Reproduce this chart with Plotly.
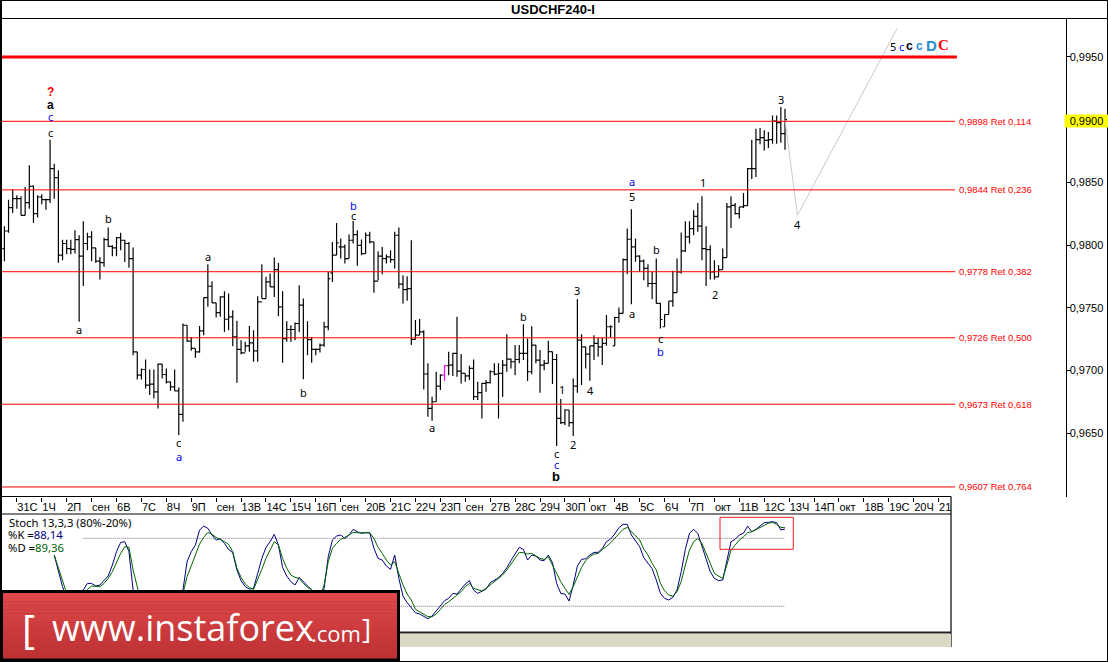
import plotly.graph_objects as go

# ---------- price data (pips, 1 pip = 0.0001) ----------
opens = [9797.2,9811.2,9829.8,9837.0,9837.0,9823.7,9833.8,9846.8,9825.1,9838.3,9836.2,9836.2,9860.9,9853.7,9791.9,9801.2,9797.2,9796.6,9804.3,9791.1,9801.2,9806.5,9797.7,9787.1,9786.0,9804.3,9799.0,9797.7,9805.9,9803.8,9801.2,9789.2,
9714.8,9696.2,9700.7,9688.2,9689.0,9682.9,9705.0,9696.7,9690.9,9686.9,9683.7,9664.9,9736.0,9723.3,9717.5,9714.8,9731.5,9758.1,9767.1,9753.8,9746.1,9758.6,9740.8,9742.7,9726.7,9716.7,9714.0,9719.6,9722.0,9715.6,9754.6,9757.3,9770.6,9766.6,9780.4,9750.7,9725.4,9732.6,9732.6,9737.4,9752.0,9726.2,9724.6,9716.7,9716.7,9720.1,9734.7,
9777.8,9791.9,9798.5,9798.5,9789.2,9803.8,9808.3,9799.8,9793.2,9807.8,9802.5,9771.2,9791.1,9789.2,9790.5,9788.4,9807.8,9768.8,9764.5,9765.3,9724.7,9728.1,9730.8,9697.1,9669.7,9675.0,9687.5,9696.2,9703.7,9704.2,9713.5,9699.4,9697.6,9695.7,9701.6,9679.0,9682.2,9689.6,9690.2,9698.9,9697.0,9697.6,9704.2,9709.0,9706.9,9708.7,9713.5,9713.5,9698.9,9720.2,9708.2,9704.2,9705.6,9714.9,9708.7,9661.7,9658.3,9668.4,9658.3,9687.5,9724.2,9718.8,9713.0,9719.6,9721.5,9718.8,9721.5,9734.8,9719.6,9742.2,9745.4,9788.4,9804.6,9798.5,9791.1,9787.1,9781.3,9769.3,9769.3,
9753.4,9734.8,9744.6,9755.2,9762.1,9778.6,9795.3,9806.5,9813.1,9822.9,9815.0,9797.2,9796.4,9778.6,9774.6,9780.4,9790.0,9830.4,9831.7,9825.1,9830.4,9831.4,9860.9,9860.9,9884.0,9885.6,9883.5,9884.0,9898.9,9897.6,9888.8]
highs = [9815.0,9836.2,9844.2,9839.7,9838.9,9846.3,9863.6,9847.6,9839.7,9840.5,9837.0,9884.0,9864.9,9859.6,9804.3,9804.3,9804.3,9811.8,9807.8,9819.0,9809.7,9811.0,9797.7,9790.5,9805.9,9813.9,9799.8,9806.5,9809.7,9804.3,9802.5,9798.0,
9714.8,9701.5,9708.7,9700.7,9700.7,9705.5,9705.0,9701.5,9690.9,9700.7,9686.4,9737.4,9736.0,9726.7,9717.5,9735.5,9758.1,9784.6,9771.1,9753.8,9759.2,9763.1,9761.3,9748.0,9739.5,9724.1,9722.8,9735.5,9732.0,9759.2,9784.6,9774.6,9777.2,9790.0,9785.7,9763.1,9739.2,9736.0,9738.2,9767.9,9757.3,9739.2,9726.7,9717.5,9721.4,9738.7,9778.5,
9802.5,9817.6,9805.2,9800.4,9808.3,9819.2,9811.8,9804.4,9809.9,9810.5,9802.5,9795.1,9798.5,9792.4,9795.9,9810.5,9813.9,9775.9,9775.1,9803.8,9740.1,9740.9,9732.1,9705.6,9679.0,9698.9,9697.0,9704.2,9714.9,9714.1,9742.7,9713.0,9697.6,9703.7,9708.7,9691.0,9690.2,9692.3,9700.2,9705.6,9705.6,9708.2,9728.9,9709.5,9720.2,9720.2,9736.9,9725.5,9735.3,9720.2,9716.2,9708.2,9723.6,9714.9,9713.0,9677.1,9668.9,9668.4,9693.6,9756.8,9728.9,9718.8,9719.6,9728.1,9726.3,9726.3,9744.1,9736.1,9742.7,9750.2,9789.2,9813.1,9828.5,9805.2,9791.9,9788.4,9784.7,9778.6,9789.2,
9753.9,9744.6,9755.2,9779.4,9789.2,9809.9,9819.0,9819.0,9827.7,9833.6,9838.9,9815.0,9799.8,9787.9,9783.9,9797.2,9833.6,9838.9,9833.6,9830.4,9841.5,9861.4,9884.0,9892.8,9893.3,9891.5,9890.1,9903.4,9903.4,9910.1,9908.7]
lows = [9787.1,9809.7,9825.6,9829.0,9823.7,9823.7,9829.0,9817.6,9821.9,9832.5,9828.2,9833.6,9837.0,9785.8,9787.9,9792.7,9792.7,9793.2,9738.7,9767.4,9795.8,9787.1,9785.8,9772.5,9782.6,9798.5,9791.1,9791.1,9795.8,9786.5,9781.8,9712.1,
9692.8,9692.8,9685.6,9680.3,9677.6,9669.6,9693.6,9689.6,9683.7,9683.7,9648.4,9659.0,9722.8,9715.6,9710.0,9714.0,9728.1,9750.7,9753.8,9742.2,9742.7,9730.7,9732.0,9719.3,9690.1,9712.9,9714.8,9714.8,9706.8,9706.8,9757.3,9757.3,9766.6,9758.6,9743.2,9706.0,9722.8,9722.8,9724.1,9730.7,9693.0,9712.1,9706.0,9712.1,9714.3,9718.8,9732.0,
9770.6,9791.9,9789.2,9785.2,9789.2,9801.2,9783.4,9791.9,9793.2,9801.2,9761.9,9771.9,9776.7,9785.2,9785.8,9781.3,9765.3,9753.4,9755.5,9720.2,9724.7,9728.1,9684.8,9663.1,9659.9,9675.0,9684.3,9691.7,9696.2,9695.5,9694.9,9689.6,9691.0,9692.3,9676.4,9676.4,9661.7,9683.0,9689.6,9696.2,9661.7,9679.0,9698.9,9701.6,9696.2,9705.6,9708.2,9691.5,9697.0,9705.6,9682.2,9700.2,9705.6,9689.1,9639.7,9657.2,9656.4,9655.1,9647.7,9682.2,9688.3,9701.6,9691.7,9708.2,9710.9,9704.2,9719.6,9726.3,9719.6,9738.0,9745.4,9776.7,9752.8,9786.6,9778.6,9771.9,9766.6,9756.8,9753.4,
9733.4,9734.8,9744.6,9750.7,9762.1,9777.2,9794.5,9801.2,9807.8,9810.5,9787.9,9767.4,9772.5,9772.5,9774.6,9780.4,9790.0,9813.6,9824.3,9821.1,9829.6,9831.4,9852.7,9854.3,9880.3,9875.5,9877.4,9880.8,9880.8,9881.6,9876.1]
closes = [9811.2,9829.8,9837.0,9837.0,9823.7,9833.8,9846.8,9825.1,9838.3,9836.2,9836.2,9860.9,9853.7,9791.9,9801.2,9797.2,9796.6,9804.3,9791.1,9801.2,9806.5,9797.7,9787.1,9786.0,9804.3,9799.0,9797.7,9805.9,9803.8,9801.2,9789.2,9714.8,
9696.2,9700.7,9688.2,9689.0,9682.9,9705.0,9696.7,9690.9,9686.9,9683.7,9664.9,9736.0,9723.3,9717.5,9714.8,9731.5,9758.1,9767.1,9753.8,9746.1,9758.6,9740.8,9742.7,9726.7,9716.7,9714.0,9719.6,9722.0,9715.6,9754.6,9757.3,9770.6,9766.6,9780.4,9750.7,9725.4,9732.6,9732.6,9737.4,9752.0,9726.2,9724.6,9716.7,9716.7,9720.1,9734.7,9773.2,
9791.9,9801.7,9798.5,9789.2,9803.8,9808.3,9799.8,9793.2,9807.8,9802.5,9771.2,9791.1,9789.2,9790.5,9788.4,9807.8,9768.8,9764.5,9765.3,9724.7,9728.1,9730.8,9697.1,9669.7,9675.0,9687.5,9696.2,9703.7,9704.2,9713.5,9699.4,9697.6,9695.7,9701.6,9679.0,9682.2,9689.6,9690.2,9698.9,9697.0,9697.6,9704.2,9709.0,9706.9,9708.7,9713.5,9713.5,9698.9,9720.2,9708.2,9704.2,9705.6,9714.9,9708.7,9661.7,9658.3,9668.4,9658.3,9687.5,9724.2,9718.8,9713.0,9719.6,9721.5,9718.8,9721.5,9734.8,9734.8,9742.2,9745.4,9788.4,9804.6,9798.5,9791.1,9787.1,9781.3,9769.3,9769.3,9753.4,
9740.6,9744.6,9755.2,9762.1,9778.6,9795.3,9806.5,9813.1,9822.9,9815.0,9797.2,9796.4,9778.6,9774.6,9780.4,9790.0,9830.4,9831.7,9825.1,9830.4,9831.4,9860.9,9860.9,9884.0,9885.6,9883.5,9884.0,9898.9,9897.6,9888.8,9900.0]
highlighted_bar = 106

# ---------- stochastic ----------
stoch_start = 12
stoch_k = [65.2,52,37.3,27,21,22.6,28.5,34.3,40.2,40.2,37.9,38.8,43.2,46.7,56.4,68.2,76.4,77,68.2,34.3,22.6,15.2,10.8,9.3,7.9,9.3,7.9,9.3,13.7,25.5,22.6,34.3,59.4,68.2,74.1,87.3,90.8,88.8,82.9,78.5,79.6,75.5,70.2,67.3,52,42.6,37.3,35.2,35.8,49,62.3,72,77,83.5,74.1,54.3,46.7,41.7,38.8,45.5,41.7,37.3,34.3,27,25.5,35.8,63.8,78.5,82,82.9,79.9,82.9,87.9,85.8,84.4,84.9,84.9,71.1,62.3,60.8,55.5,52.6,65.2,44.6,29,23.2,19,14.3,13.2,11.4,9,11.4,16.1,21.1,24.9,27,31.4,30.8,34.9,39.6,42.6,34.3,31.4,33.5,35.2,40.8,43.2,45.2,49,54,60.3,66.7,72,70.2,60.8,65.2,64.3,60.8,60.3,65.2,58.5,40.2,31.4,30.8,24.6,38.8,55.5,61.4,62,65.2,67.6,67.6,71.1,77,79.4,83.8,89.4,92.3,92.3,82.9,77.9,72.6,62.9,57.9,53.2,43.2,31.4,27,25.5,27.9,34.3,50.5,70.2,84.4,87.9,84.4,72.6,60.3,50.5,44.6,42.6,43.2,60.8,77,79.1,82.9,84.4,90.8,85.8,87.9,90.8,93.8,94.1,94.7,93.8,87.3,88.14]
stoch_d = [65.2,53.5,41.7,31.4,24,21,24,29.9,34.9,37.9,37.3,37.3,40.2,44.6,50.5,58.5,66.7,72.6,72,52,35.8,22.6,15.2,10.8,9.3,8.4,8.4,8.4,10.2,16.7,25.5,31.4,46.1,56.4,65.2,74.9,80.8,85.2,83.5,80.8,79.1,77,74.6,68.2,53.5,45.5,39.6,36.7,34.9,43.2,52.6,62.3,70.2,77,74.1,62.3,53.5,47.6,45.5,44.6,40.2,36.7,34.9,29.9,28.5,38.8,59.4,71.1,75.5,79.1,80.8,82.9,85.2,84.9,84.9,84.9,84.9,79.9,72,66.7,60.8,56.4,59.4,49,38.8,30.8,25.5,17.3,15.2,13.2,10.8,10.8,13.2,17.2,21.7,24,27,29.3,32.9,37.3,40.2,35.8,34.3,33.5,35.8,38.8,41.1,44.6,47.6,52,57.3,62.3,67.6,67.3,66.1,66.7,64.3,62.3,61.4,63.8,56.4,49,41.7,35.8,30.5,37.3,46.1,54.3,60.3,63.8,66.1,66.7,70.2,72.6,76.1,79.9,83.8,87.9,89.6,85.8,82,78.5,70.5,65.2,57.9,52,40.2,33.7,29.9,29,32.9,41.7,56.4,69.6,77,79.9,75.5,66.7,57.9,49,46.7,44.6,56.4,69.6,74,78.5,81.4,84.9,85.8,87.9,89.6,91.4,93.2,94.1,92.3,89.6,89.36]
stoch_levels = [80, 20]
stoch_level_span = [19, 188]
stoch_box_x = [172.35, 190]
stoch_box_y = [70.3, 98.5]

# ---------- axes ----------
date_ticks = [3 + 6 * k for k in range(38)]
date_labels = ["31С","1Ч","2П","сен","6В","7С","8Ч","9П","сен","13В","14С","15Ч","16П","сен","20В","21С","22Ч","23П","сен","27В","28С","29Ч","30П","окт","4В","5С","6Ч","7П","окт","11В","12С","13Ч","14П","окт","18В","19С","20Ч","21"]
price_ticks = [0.9650, 0.9700, 0.9750, 0.9800, 0.9850, 0.9950]
last_price = 0.9900

# ---------- retracement levels ----------
ret_prices = [0.98987, 0.9844, 0.97787, 0.9726, 0.9673, 0.9607]
ret_labels = ["0,9898 Ret 0,114","0,9844 Ret 0,236","0,9778 Ret 0,382","0,9726 Ret 0,500","0,9673 Ret 0,618","0,9607 Ret 0,764"]
ret_end = 229
ret_label_x = 229.5
target_price = 0.9950
target_end = 229.4

# ---------- forecast path ----------
wave_x = [188, 191, 215]
wave_y = [0.9900, 0.98237, 0.99727]

# ---------- wave labels ----------
lab_text = ["?","a","c","c","a","b","c","a","a","b","b","c","a","b","1","2","3","4","c","c","b","a","a","5","b","c","b","1","2","3","4","5","c","c","c","D","C"]
lab_x = [11,11,11,11,18,25,42,42,49,72,84,84,103,125,134.2,137,138,141.1,132.9,132.9,132.9,151.1,151.1,151.1,157.1,158,158,168.2,171.1,187.1,191,214.1,216,218.1,220.3,223.2,226.1]
lab_y = [9922,9911.8,9902.6,9889.8,9732.6,9821.1,9642.3,9631.7,9790.5,9682.4,9831.7,9823.7,9654.2,9743,9685,9641,9763.4,9683.7,9633.5,9624.7,9615.7,9745,9851,9839.1,9796.4,9725.7,9715.3,9850.2,9760.2,9916.4,9816.3,9958.4,9958.4,9958.4,9958.4,9959.4,9959.4]
lab_col = ["#ff0000","#000000","#0000ff","#000000","#000000","#000000","#000000","#0000ff","#000000","#000000","#0000ff","#000000","#000000","#000000","#000000","#000000","#000000","#000000","#000000","#0000ff","#000000","#000000","#0000ff","#000000","#000000","#000000","#0000ff","#000000","#000000","#000000","#000000","#000000","#0000ff","#000000","#1e90d0","#1e90d0","#ff0000"]
lab_bold = [1,1,0,0,0,0,0,0,0,0,0,0,0,0,0,0,0,0,0,0,1,0,0,0,0,0,0,0,0,0,0,0,0,1,1,1,1]
lab_size = [12,12,11,11,11,11,11,11,11,11,11,11,11,11,11,11,11,11,11,11,13,11,11,11,11,11,11,11,11,11,11,11,11,12,12,15,15]

W, H = 1108, 662
FONT = "Noto Sans"
AXFONT = "Liberation Sans"
px = lambda x: x / W
py = lambda y: 1 - y / H
bars = range(len(opens))
keep = [i for i in bars if i != highlighted_bar]
pr = lambda s, ids: [s[i] / 10000 for i in ids]

fig = go.Figure()
for ids, col in ((keep, "#000000"), ([highlighted_bar], "#ff00ff")):
    fig.add_trace(go.Ohlc(x=list(ids), open=pr(opens, ids), high=pr(highs, ids), low=pr(lows, ids), close=pr(closes, ids),
                          increasing=dict(line=dict(color=col, width=1.2)),
                          decreasing=dict(line=dict(color=col, width=1.2)),
                          tickwidth=0.5, showlegend=False, hoverinfo="skip"))

fig.add_trace(go.Scatter(x=wave_x, y=wave_y, mode="lines", line=dict(color="#cfc9cf", width=1), hoverinfo="skip"))

for p in ret_prices:
    fig.add_trace(go.Scatter(x=[-2, ret_end], y=[p, p], mode="lines", line=dict(color="#ff0000", width=1), hoverinfo="skip"))
fig.add_trace(go.Scatter(x=[-2, target_end], y=[target_price, target_price], mode="lines", line=dict(color="#ff0000", width=3), hoverinfo="skip"))

stoch_x = [stoch_start + i for i in range(len(stoch_k))]
for lv in stoch_levels:
    fig.add_trace(go.Scatter(x=stoch_level_span, y=[lv, lv], yaxis="y2", mode="lines",
                             line=dict(color="#847484", width=1, dash="1px,1px"), hoverinfo="skip"))
fig.add_trace(go.Scatter(x=stoch_x, y=stoch_k, yaxis="y2", mode="lines", line=dict(color="#000080", width=1), hoverinfo="skip"))
fig.add_trace(go.Scatter(x=stoch_x, y=stoch_d, yaxis="y2", mode="lines", line=dict(color="#006400", width=1), hoverinfo="skip"))

shapes = []
def hline(x0, x1, y, w=1, c="#000000"):
    shapes.append(dict(type="line", xref="paper", yref="paper", x0=px(x0), x1=px(x1), y0=py(y), y1=py(y), line=dict(color=c, width=w), layer="above"))
def vline(x, y0, y1, w=1, c="#000000"):
    shapes.append(dict(type="line", xref="paper", yref="paper", x0=px(x), x1=px(x), y0=py(y0), y1=py(y1), line=dict(color=c, width=w), layer="above"))
def rect(x0, y0, x1, y1, c):
    shapes.append(dict(type="rect", xref="paper", yref="paper", x0=px(x0), x1=px(x1), y0=py(y0), y1=py(y1), fillcolor=c, line=dict(width=0), layer="above"))

# frame and panel rules
hline(0, 1108, 0.5); hline(0, 1108, 18.5); hline(0, 1108, 661.5)
vline(1, 0, 662, 2); vline(1107.5, 0, 662)
hline(0, 951, 496.5); hline(0, 951, 514); vline(951, 496.5, 647, 1.2)
rect(2, 634, 951, 647, "#dcd9c6")
hline(0, 951, 632.5, 2.2, "#222222")

# stochastic highlight box
shapes.append(dict(type="rect", xref="x", yref="y2", x0=stoch_box_x[0], x1=stoch_box_x[1], y0=stoch_box_y[0], y1=stoch_box_y[1],
                   line=dict(color="#ee1c1c", width=1), layer="above"))

# banner
rect(0, 590, 400, 662, "#000000")
n = 16
for k in range(n):
    t = k / (n - 1)
    c = "rgb(%d,%d,%d)" % (222 - 32 * t, 72 - 22 * t, 74 - 22 * t)
    rect(3, 593 + k * 65 / n, 397, 593 + (k + 1) * 65 / n + 0.5, c)

ann = []
for t, x, y, c, b, s in zip(lab_text, lab_x, lab_y, lab_col, lab_bold, lab_size):
    fam = "Liberation Serif" if t == "C" else ("Liberation Sans" if b else FONT)
    ann.append(dict(x=x, y=y / 10000, xref="x", yref="y", text=f"<b>{t}</b>" if b else t, showarrow=False,
                    font=dict(family=fam, size=s, color=c), xanchor="center", yanchor="middle"))
for p, t in zip(ret_prices, ret_labels):
    ann.append(dict(x=ret_label_x, y=p, xref="x", yref="y", text=t, showarrow=False, xanchor="left", yanchor="middle",
                    font=dict(family=AXFONT, size=9.5, color="#ff0000")))
ann.append(dict(x=px(1064), y=last_price, xref="paper", yref="y", text="0,9900", showarrow=False, xanchor="left", yanchor="middle",
                bgcolor="#ffff00", font=dict(family=AXFONT, size=11, color="#000000"), borderpad=0, width=43, align="center", yshift=-1))
def note(x, y, text, size=11, color="#000000", family=FONT, anchor="left"):
    ann.append(dict(x=px(x), y=py(y), xref="paper", yref="paper", text=text, showarrow=False, xanchor=anchor, yanchor="middle",
                    font=dict(family=family, size=size, color=color)))
note(7, 522, "Stoch 13,3,3 (80%-20%)", 11.3)
note(6, 534.5, '%K =<span style="color:#000080">88,14</span>', 11.3)
note(6, 547.5, '%D =<span style="color:#006400">89,36</span>', 11.3)
note(20, 628, "[", 40, "#ffffff", "Open Sans")
note(50, 627, "www.instaforex", 36, "#ffffff", "Open Sans")
note(309, 633, ".com", 22, "#ffffff", "Open Sans")
note(360, 628, "]", 28, "#ffffff", "Open Sans")

fig.update_layout(
    width=W, height=H, margin=dict(l=0, r=0, t=0, b=0), autosize=False,
    plot_bgcolor="#ffffff", paper_bgcolor="#ffffff", showlegend=False, separators=",.", hovermode=False,
    title=dict(text="<b>USDCHF240-I</b>", x=553 / W, y=1 - 9 / H, xanchor="center", yanchor="middle",
               font=dict(family="Liberation Sans", size=13, color="#000000")),
    font=dict(family=AXFONT, size=11, color="#000000"),
    xaxis=dict(domain=[0, 1065.5 / W], range=[-1.06, 255.56], anchor="y", showgrid=False, zeroline=False, showline=False,
               tickmode="array", tickvals=date_ticks, ticktext=date_labels, ticks="outside", ticklen=4, tickwidth=1, tickcolor="#000000",
               ticklabelposition="outside right", tickangle=0, tickfont=dict(family=AXFONT, size=11, color="#000000"),
               rangeslider=dict(visible=False), fixedrange=True),
    yaxis=dict(domain=[py(496.5), py(18.5)], range=[0.95994, 0.99807], anchor="x", side="right", showgrid=False, zeroline=False,
               showline=True, linecolor="#000000", linewidth=1, tickmode="array", tickvals=price_ticks, tickformat=".4f",
               ticks="outside", ticklen=4, tickwidth=1, tickcolor="#000000", ticklabelstandoff=-3,
               tickfont=dict(family=AXFONT, size=11, color="#000000"), fixedrange=True),
    yaxis2=dict(domain=[py(632), py(514)], range=[-2.7, 101.45], anchor="x", visible=False, fixedrange=True),
    shapes=shapes, annotations=ann,
)
fig.write_html("out.html", config=dict(displayModeBar=False, staticPlot=True),
               post_script="document.body.style.margin='0';document.documentElement.style.overflow='hidden';")
